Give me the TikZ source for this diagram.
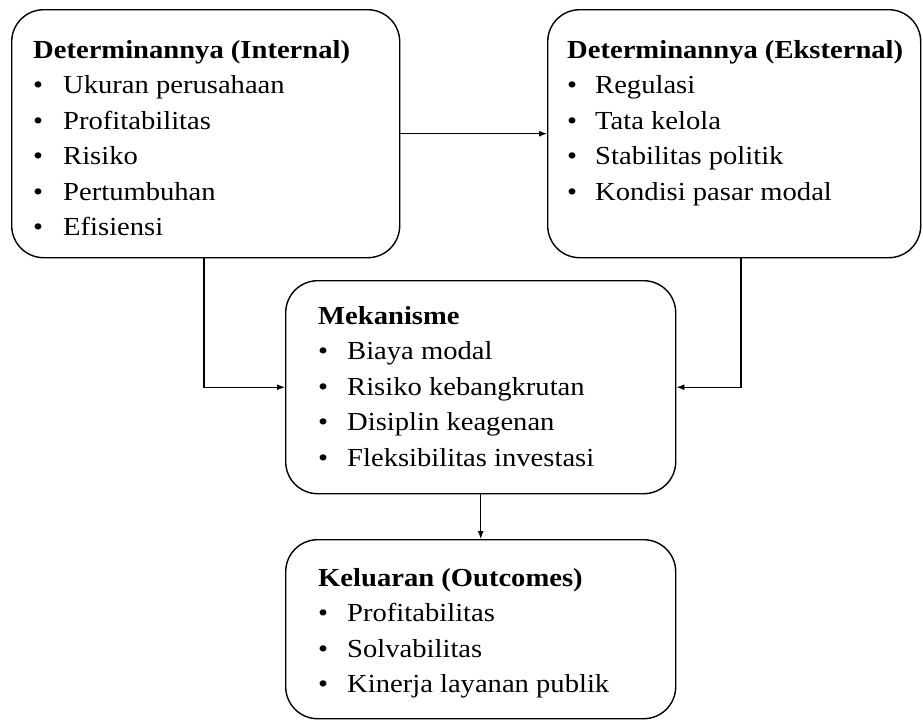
\documentclass[tikz,border=0pt]{standalone}
\usepackage{fontspec}
\setmainfont{Liberation Serif}[FakeStretch=1.1]
\usetikzlibrary{arrows.meta}
\begin{document}
\begin{tikzpicture}[x=1pt,y=-1pt,
  box/.style={draw, line width=1.4pt, rounded corners=32pt, inner sep=0pt},
  ttl/.style={anchor=base west, inner sep=0pt, font=\fontsize{26}{30}\selectfont\bfseries},
  itm/.style={anchor=base west, inner sep=0pt, font=\fontsize{26}{30}\selectfont},
  conn/.style={line width=1.1pt, -{Latex[length=8pt,width=6pt]}}]
\useasboundingbox (0,0) rectangle (923,723);
% boxes
\node[box, minimum width=388pt, minimum height=248pt, anchor=north west] (int) at (11,9) {};
\node[box, minimum width=373pt, minimum height=248pt, anchor=north west] (ext) at (547,9) {};
\node[box, minimum width=390pt, minimum height=213pt, anchor=north west] (mek) at (285,280) {};
\node[box, minimum width=390pt, minimum height=179pt, anchor=north west] (out) at (285,539) {};
% internal
\node[ttl] (intT) at (33,58) {Determinannya (Internal)};
\foreach \t [count=\i] in {Ukuran perusahaan, Profitabilitas, Risiko, Pertumbuhan, Efisiensi}{
  \node[itm] (intB\i) at (33,58+35.5*\i) {\textbullet};
  \node[itm] (intI\i) at (63,58+35.5*\i) {\t};
}
% external
\node[ttl] (extT) at (567,58) {Determinannya (Eksternal)};
\foreach \t [count=\i] in {Regulasi, Tata kelola, Stabilitas politik, Kondisi pasar modal}{
  \node[itm] (extB\i) at (567,58+35.5*\i) {\textbullet};
  \node[itm] (extI\i) at (595,58+35.5*\i) {\t};
}
% mekanisme
\node[ttl] (mekT) at (318,324) {Mekanisme};
\foreach \t [count=\i] in {Biaya modal, Risiko kebangkrutan, Disiplin keagenan, Fleksibilitas investasi}{
  \node[itm] (mekB\i) at (318,324+35.5*\i) {\textbullet};
  \node[itm] (mekI\i) at (347,324+35.5*\i) {\t};
}
% keluaran
\node[ttl] (outT) at (318,586) {Keluaran (Outcomes)};
\foreach \t [count=\i] in {Profitabilitas, Solvabilitas, Kinerja layanan publik}{
  \node[itm] (outB\i) at (318,586+35.5*\i) {\textbullet};
  \node[itm] (outI\i) at (347,586+35.5*\i) {\t};
}
% connectors
\coordinate (c1) at (204,257);
\coordinate (c2) at (741,257);
\draw[conn] (int.east) -- (ext.west);
\draw[conn] (c1) |- (mek.west);
\draw[conn] (c2) |- (mek.east);
\draw[conn] (mek.south) -- (out.north);
\end{tikzpicture}
\end{document}
